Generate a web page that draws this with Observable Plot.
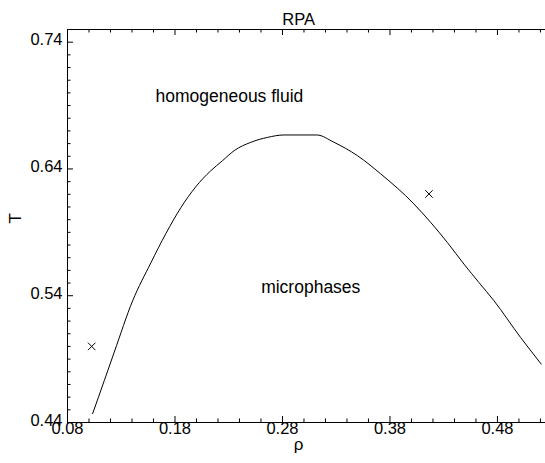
<!DOCTYPE html>
<html><head><meta charset="utf-8">
<script src="https://cdn.jsdelivr.net/npm/d3@7"></script>
<script src="https://cdn.jsdelivr.net/npm/@observablehq/plot@0.6"></script>
<style>body{margin:0;background:#fff} svg{display:block}</style>
</head><body><div id="chart"></div>
<script>
// Boundary curve (RPA)
const rho = [0.1034,0.1142,0.1235,0.1406,0.1576,0.1715,0.1855,0.1994,0.2133,0.2242,0.2350,0.2505,0.2661,0.2815,0.3119,0.3280,0.3497,0.3714,0.4023,0.4178,0.4333,0.4488,0.4627,0.4767,0.5015,0.5207];
const T   = [0.4470,0.4730,0.4955,0.5360,0.5660,0.5890,0.6095,0.6260,0.6386,0.6465,0.6544,0.6610,0.6649,0.6668,0.6668,0.6610,0.6505,0.6361,0.6124,0.5979,0.5821,0.5650,0.5505,0.5361,0.5071,0.4861];
// Cross markers
const crossRho = [0.1025, 0.4163];
const crossT   = [0.5000, 0.6203];
// Region labels
const labelText = ["homogeneous fluid", "microphases"];
const labelRho  = [0.2306, 0.3063];
const labelT    = [0.697, 0.5463];
// Ticks
const xMajor = [0.08, 0.18, 0.28, 0.38, 0.48];
const xMinor = [0.10,0.12,0.14,0.16,0.20,0.22,0.24,0.26,0.30,0.32,0.34,0.36,0.40,0.42,0.44,0.46,0.50,0.52];
const yMajor = [0.44, 0.54, 0.64, 0.74];
const yMinor = [0.45,0.46,0.47,0.48,0.49,0.50,0.51,0.52,0.53,0.55,0.56,0.57,0.58,0.59,0.60,0.61,0.62,0.63,0.65,0.66,0.67,0.68,0.69,0.70,0.71,0.72,0.73];

const W = 545, H = 463, mt = 29, mb = 41, ml = 67, mr = 0;
const fw = W - ml - mr, fh = H - mt - mb;
const curve = rho.map((r, i) => ({rho: r, T: T[i]}));
const crosses = crossRho.map((r, i) => ({rho: r, T: crossT[i]}));
const labels = labelText.map((t, i) => ({text: t, rho: labelRho[i], T: labelT[i]}));
const fmt = d3.format(".2f");
const font = "Liberation Sans, Arial, Helvetica, sans-serif";

const chart = Plot.plot({
  width: W, height: H,
  marginTop: mt, marginBottom: mb, marginLeft: ml, marginRight: mr,
  style: {fontFamily: font, fontSize: "16px", background: "white", color: "black"},
  x: {domain: [0.08, 0.5247], axis: null},
  y: {domain: [0.44, 0.75], axis: null},
  marks: [
    // frame: left, top, bottom
    Plot.ruleX([0.08], {stroke: "black"}),
    Plot.ruleY([0.75], {stroke: "black"}),
    Plot.ruleY([0.44], {stroke: "black"}),
    // inward ticks bottom
    Plot.tickX(xMajor, {insetTop: fh - 6, stroke: "black"}),
    Plot.tickX(xMinor, {insetTop: fh - 3.5, stroke: "black"}),
    // inward ticks top
    Plot.tickX(xMajor, {insetBottom: fh - 6, stroke: "black"}),
    Plot.tickX(xMinor, {insetBottom: fh - 3.5, stroke: "black"}),
    // inward ticks left
    Plot.tickY(yMajor, {insetRight: fw - 6, stroke: "black"}),
    Plot.tickY(yMinor, {insetRight: fw - 3.5, stroke: "black"}),
    // tick labels
    Plot.text(xMajor, {x: d => d, frameAnchor: "bottom", lineAnchor: "top", dy: 0, text: fmt, fontSize: 16.5, fill: "black"}),
    Plot.text(yMajor, {y: d => d, frameAnchor: "left", textAnchor: "end", dx: -5, dy: -2, text: fmt, fontSize: 16.5, fill: "black"}),
    // axis labels & title
    Plot.text(["ρ"], {x: () => 0.295, frameAnchor: "bottom", dy: 27, fontSize: 17, fill: "black"}),
    Plot.text(["T"], {y: () => 0.597, frameAnchor: "left", dx: -52, rotate: -90, fontSize: 17, fill: "black"}),
    Plot.text(["RPA"], {x: () => 0.295, frameAnchor: "top", dy: -16, fontSize: 16.5, fill: "black"}),
    // data
    Plot.line(curve, {x: "rho", y: "T", stroke: "black", strokeWidth: 1, curve: "monotone-x"}),
    Plot.dot(crosses, {x: "rho", y: "T", symbol: "times", r: 3.5, stroke: "black", strokeWidth: 1}),
    Plot.text(labels, {x: "rho", y: "T", text: "text", fontSize: 17.5, fill: "black"})
  ]
});
document.getElementById("chart").appendChild(chart);
</script>
</body></html>
